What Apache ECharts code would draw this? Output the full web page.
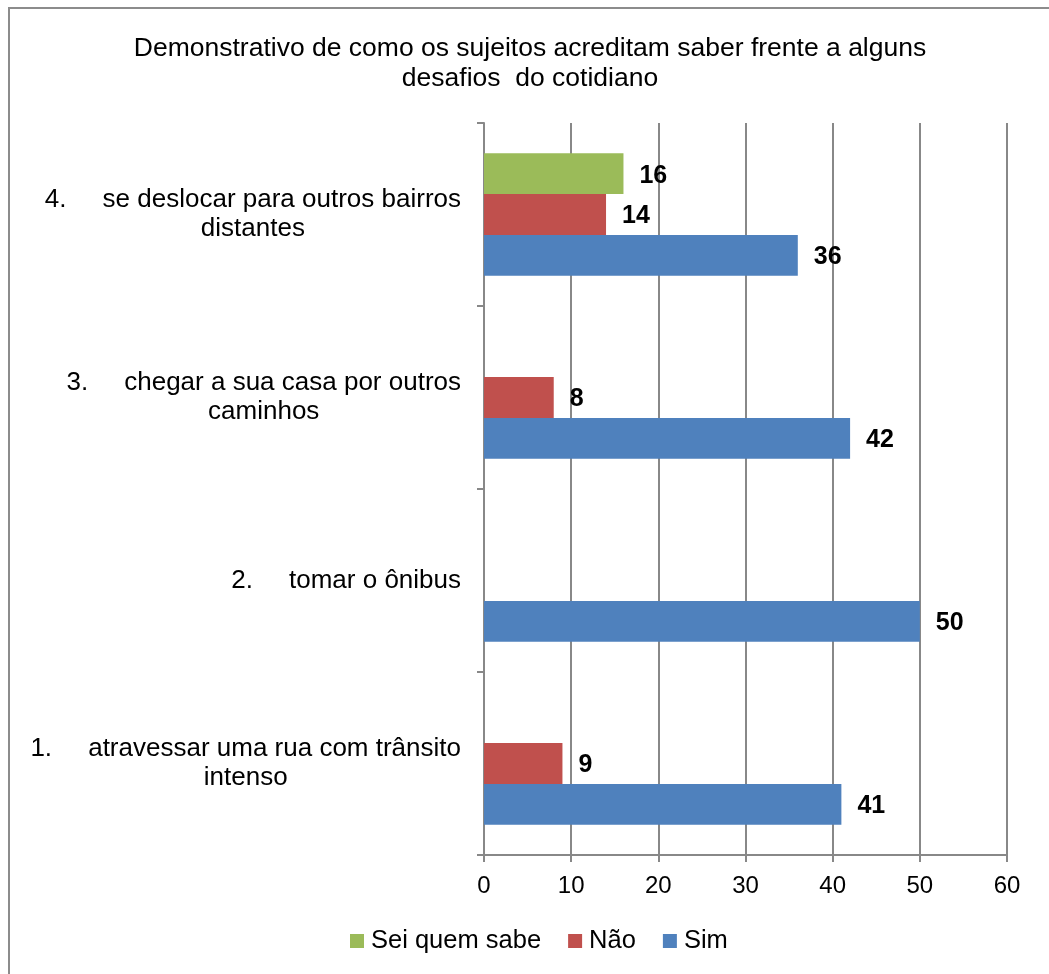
<!DOCTYPE html>
<html>
<head>
<meta charset="utf-8">
<script src="https://cdn.jsdelivr.net/npm/echarts@6/dist/echarts.min.js"></script>
<style>html,body{margin:0;padding:0;background:#fff}#c{width:1049px;height:974px}</style>
</head>
<body>
<div id="c"></div>
<script>
const categories = [
  "1.     atravessar uma rua com trânsito\nintenso",
  "2.     tomar o ônibus",
  "3.     chegar a sua casa por outros\ncaminhos",
  "4.     se deslocar para outros bairros\ndistantes"
];
const simValues = [41, 50, 42, 36];
const naoValues = [9, null, 8, 14];
const seiValues = [null, null, null, 16];
const xTicks = [0, 10, 20, 30, 40, 50, 60];
const titleText = "Demonstrativo de como os sujeitos acreditam saber frente a alguns\ndesafios  do cotidiano";

const FONT = "Liberation Sans, Arial, sans-serif";
const chart = echarts.init(document.getElementById('c'), null, {renderer: 'canvas'});
const labelCfg = {show: true, position: 'right', distance: 16, offset: [0, 2], color: '#000', fontWeight: 'bold', fontSize: 25, fontFamily: FONT};
chart.setOption({
  animation: false,
  backgroundColor: '#fff',
  title: {
    text: titleText, left: 525, textAlign: 'center', top: 29,
    textStyle: {fontFamily: FONT, fontSize: 26.5, fontWeight: 'normal', color: '#000', lineHeight: 30}
  },
  legend: {
    data: ['Sei quem sabe', 'Não', 'Sim'],
    bottom: 15, left: 345,
    itemWidth: 14, itemHeight: 14, itemGap: 27, icon: 'rect',
    textStyle: {fontFamily: FONT, fontSize: 25.5, color: '#000', padding: [0, 0, 0, 2]}
  },
  grid: {left: 484, right: 42, top: 123, bottom: 119, containLabel: false},
  xAxis: {
    type: 'value', min: xTicks[0], max: xTicks[xTicks.length - 1], interval: 10,
    axisLine: {show: true, lineStyle: {color: '#888', width: 2}},
    axisTick: {show: true, length: 7, lineStyle: {color: '#888', width: 2}},
    splitLine: {show: true, lineStyle: {color: '#888', width: 2}},
    axisLabel: {fontFamily: FONT, fontSize: 24, color: '#000', margin: 19}
  },
  yAxis: {
    type: 'category', data: categories,
    axisLine: {show: true, lineStyle: {color: '#888', width: 2}},
    axisTick: {show: true, length: 7, lineStyle: {color: '#888', width: 2}},
    axisLabel: {
      fontFamily: FONT, fontSize: 26, color: '#000', align: 'right', lineHeight: 29, margin: 23,
      formatter: v => v.split('\n').map(s => '{c|' + s + '}').join('\n'),
      rich: {c: {align: 'center', fontFamily: FONT, fontSize: 26, color: '#000', lineHeight: 29}}
    }
  },
  series: [
    {name: 'Sei quem sabe', type: 'bar', data: seiValues, barGap: '0%', barCategoryGap: '33%',
      itemStyle: {color: '#9BBB59'}, label: labelCfg},
    {name: 'Não', type: 'bar', data: naoValues, barGap: '0%', barCategoryGap: '33%',
      itemStyle: {color: '#C0504D'}, label: labelCfg},
    {name: 'Sim', type: 'bar', data: simValues, barGap: '0%', barCategoryGap: '33%',
      itemStyle: {color: '#4F81BD'}, label: labelCfg}
  ],
  graphic: [{
    type: 'rect', shape: {x: 9, y: 8, width: 1200, height: 1200},
    style: {fill: 'none', stroke: '#8c8c8c', lineWidth: 2}, silent: true, z: 100
  }]
});
</script>
</body>
</html>
